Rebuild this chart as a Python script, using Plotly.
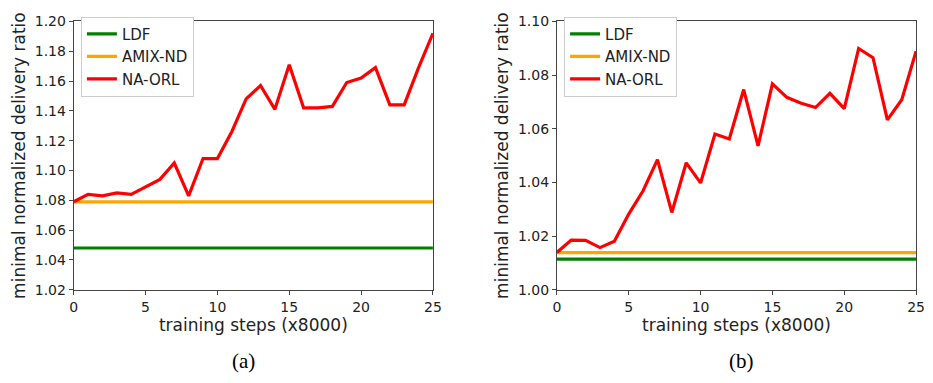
import plotly.graph_objects as go

steps = list(range(26))

# Panel (a)
a_naorl = [1.079, 1.084, 1.083, 1.085, 1.084, 1.089, 1.094, 1.105, 1.083, 1.108, 1.108,
           1.126, 1.148, 1.157, 1.141, 1.171, 1.142, 1.142, 1.143, 1.159, 1.162, 1.169,
           1.144, 1.144, 1.169, 1.192]
a_amix = 1.079
a_ldf = 1.048

# Panel (b)
b_naorl = [1.0139, 1.0185, 1.0184, 1.0157, 1.0181, 1.0282, 1.0369, 1.0485, 1.0288, 1.0473,
           1.0398, 1.0580, 1.0562, 1.0746, 1.0536, 1.0767, 1.0717, 1.0695, 1.0679, 1.0732,
           1.0675, 1.0899, 1.0865, 1.0633, 1.0708, 1.0889]
b_amix = 1.0138
b_ldf = 1.0114

series_names = ["LDF", "AMIX-ND", "NA-ORL"]
colors = ["#008000", "#FFA500", "#FF0000"]

W, H = 933, 383
fig = go.Figure()

panels = [
    (a_ldf, a_amix, a_naorl, "x", "y", "legend"),
    (b_ldf, b_amix, b_naorl, "x2", "y2", "legend2"),
]
for ldf, amix, naorl, xa, ya, lg in panels:
    vals = [[ldf] * len(steps), [amix] * len(steps), naorl]
    for name, col, v in zip(series_names, colors, vals):
        fig.add_trace(go.Scatter(x=steps, y=v, mode="lines", name=name,
                                 line=dict(color=col, width=3.2),
                                 xaxis=xa, yaxis=ya, legend=lg))

ydom = [1 - 294 / H, 1 - 14 / H]
axis_common = dict(showline=True, mirror=True, linecolor="#444", linewidth=1,
                   ticks="outside", ticklen=4, tickcolor="#444", showgrid=False,
                   zeroline=False, tickfont=dict(family="DejaVu Sans", size=14, color="#222"))
title_font = dict(family="DejaVu Sans", size=17, color="#222")

legend_common = dict(xanchor="left", yanchor="top",
                     bgcolor="white", bordercolor="#ccc", borderwidth=1,
                     font=dict(family="DejaVu Sans", size=15, color="#222"),
                     tracegroupgap=0, itemwidth=30)

fig.update_layout(
    width=W, height=H, margin=dict(l=0, r=0, t=0, b=0),
    paper_bgcolor="white", plot_bgcolor="white",
    xaxis=dict(domain=[70.7 / W, 435 / W], range=[0, 25], tickvals=[0, 5, 10, 15, 20, 25],
               title=dict(text="training steps (x8000)", font=title_font, standoff=4),
               anchor="y", **axis_common),
    yaxis=dict(domain=ydom, range=[1.02, 1.20], tickvals=[1.02 + 0.02 * i for i in range(10)],
               tickformat=".2f",
               title=dict(text="minimal normalized delivery ratio", font=title_font, standoff=4),
               anchor="x", **axis_common),
    xaxis2=dict(domain=[560.7 / W, 925 / W], range=[0, 25], tickvals=[0, 5, 10, 15, 20, 25],
                title=dict(text="training steps (x8000)", font=title_font, standoff=4),
                anchor="y2", **axis_common),
    yaxis2=dict(domain=ydom, range=[1.00, 1.10], tickvals=[1.00 + 0.02 * i for i in range(6)],
                tickformat=".2f",
                title=dict(text="minimal normalized delivery ratio", font=title_font, standoff=4),
                anchor="x2", **axis_common),
    legend=dict(x=78 / W, y=1 - 9 / H, **legend_common),
    legend2=dict(x=568 / W, y=1 - 9 / H, **legend_common),
    annotations=[
        dict(text="(a)", x=243 / W, y=1 - 368 / H, xref="paper", yref="paper",
             xanchor="center", yanchor="middle",
             showarrow=False, font=dict(family="Liberation Serif", size=21, color="black")),
        dict(text="(b)", x=748 / W, y=1 - 368 / H, xref="paper", yref="paper",
             xanchor="center", yanchor="middle",
             showarrow=False, font=dict(family="Liberation Serif", size=21, color="black")),
    ],
)

fig.write_html("out.html")
